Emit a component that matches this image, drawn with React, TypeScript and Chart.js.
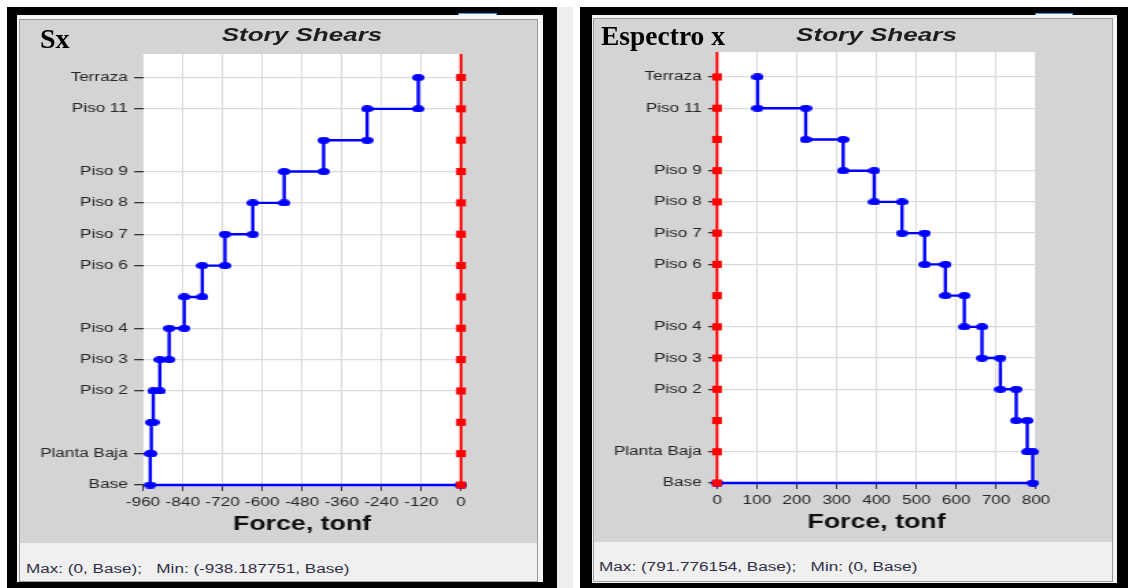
import React, { useEffect, useRef } from 'react';
import { Chart, registerables } from 'chart.js';

Chart.register(...registerables);

// ---------- data ----------
const storyLevels = ['Base', 'Planta Baja', 'Piso 1', 'Piso 2', 'Piso 3', 'Piso 4', 'Piso 5', 'Piso 6', 'Piso 7', 'Piso 8', 'Piso 9', 'Piso 10', 'Piso 11', 'Terraza'];
const labeledLevels = ['Base', 'Planta Baja', 'Piso 2', 'Piso 3', 'Piso 4', 'Piso 6', 'Piso 7', 'Piso 8', 'Piso 9', 'Piso 11', 'Terraza'];
const storiesTopDown = ['Terraza', 'Piso 11', 'Piso 10', 'Piso 9', 'Piso 8', 'Piso 7', 'Piso 6', 'Piso 5', 'Piso 4', 'Piso 3', 'Piso 2', 'Piso 1', 'Planta Baja'];
const shearSx = [-129.1, -283.5, -414.7, -533.8, -628.7, -712.5, -781.1, -835.6, -881.0, -909.3, -929.0, -935.0, -938.187751];
const shearEspectroX = [101.7, 222.4, 316.3, 394.2, 463.8, 520.8, 572.8, 620.1, 664.5, 710.6, 750.3, 778.0, 791.776154];
const xTicksSx = [-960, -840, -720, -600, -480, -360, -240, -120, 0];
const xTicksEspectro = [0, 100, 200, 300, 400, 500, 600, 700, 800];

const FONT = "'Liberation Sans', Arial, sans-serif";
const SERIF = "'Liberation Serif', 'Times New Roman', serif";
const CANVAS_W = 379;

type Box = [number, number, number, number];
type PanelCfg = {
  label: string; labelFont: number; labelLeft: number; labelTop: number;
  frame: Box; light: Box; panel: Box;
  statusTop: number;
  plot: Box; // left, top, right, bottom (page coords)
  titleCy: number; xTitleCy: number; statusCy: number; statusX: number;
  status: string;
  blueRect: [number, number];
  shears: number[];
  xTicks: number[];
  yMax: number;
};

function stepPoints(shears: number[]) {
  const pts: { x: number; y: number }[] = [];
  storiesTopDown.forEach((name, i) => {
    const k = storyLevels.indexOf(name);
    pts.push({ x: shears[i], y: k }, { x: shears[i], y: k - 1 });
  });
  pts.push({ x: 0, y: 0 });
  return pts;
}

function ShearChart({ cfg }: { cfg: PanelCfg }) {
  const ref = useRef<HTMLCanvasElement>(null);
  const [px, py, pw] = cfg.panel;
  const S = pw / CANVAS_W;
  const canvasH = cfg.statusTop - py;
  const L = (cfg.plot[0] - px) / S;
  const R = (cfg.plot[2] - px) / S;
  const T = cfg.plot[1] - py;
  const B = cfg.plot[3] - py;
  const xTitleFs = 19.5;
  const xTitlePad = canvasH - (cfg.xTitleCy - py) - (xTitleFs * 1.2) / 2;

  useEffect(() => {
    const dot = document.createElement('canvas');
    dot.width = 9; dot.height = 7;
    const c = dot.getContext('2d')!;
    c.fillStyle = '#0000ff';
    c.beginPath();
    c.ellipse(4.5, 3.5, 4.5, 3.5, 0, 0, Math.PI * 2);
    c.fill();

    const redPts = storyLevels.map((_, k) => ({ x: 0, y: k }));
    redPts.push({ x: 0, y: cfg.yMax });
    const redRadii = redPts.map((_, i) => (i < storyLevels.length ? 5 : 0));
    const xs = cfg.xTicks;

    const chart = new Chart(ref.current!, {
      type: 'line',
      data: {
        datasets: [
          {
            label: 'zero',
            data: redPts,
            borderColor: '#ff0000',
            backgroundColor: '#ff0000',
            borderWidth: 2,
            pointStyle: 'rect',
            pointRadius: redRadii,
            pointBorderWidth: 0,
            clip: false as any,
            tension: 0,
          },
          {
            label: 'shear',
            data: stepPoints(cfg.shears),
            borderColor: '#0000ff',
            backgroundColor: '#0000ff',
            borderWidth: 2.4,
            pointStyle: dot as any,
            pointRadius: 4,
            clip: false as any,
            tension: 0,
          },
        ],
      },
      options: {
        responsive: false,
        animation: false,
        devicePixelRatio: 1,
        events: [],
        layout: { padding: { left: 0, right: CANVAS_W - R, top: T, bottom: 0 } },
        plugins: { legend: { display: false }, tooltip: { enabled: false }, title: { display: false } },
        scales: {
          x: {
            type: 'linear',
            min: xs[0],
            max: xs[xs.length - 1],
            afterBuildTicks: (s: any) => { s.ticks = xs.map((v) => ({ value: v })); },
            afterFit: (s: any) => { s.height = canvasH - B; },
            grid: { color: '#dadada', lineWidth: 1, tickLength: 6, tickColor: '#333', tickWidth: 1 },
            border: { display: false },
            ticks: {
              autoSkip: false, maxRotation: 0, padding: 4, color: '#262626',
              font: { family: FONT, size: 12.5 },
              callback: (v: any) => String(v),
            },
            title: {
              display: true, text: 'Force, tonf', color: '#111',
              font: { family: FONT, size: xTitleFs, weight: 'bold' },
              padding: { top: 0, bottom: xTitlePad },
            },
          },
          y: {
            type: 'linear',
            min: 0,
            max: cfg.yMax,
            afterBuildTicks: (s: any) => { s.ticks = labeledLevels.map((n) => ({ value: storyLevels.indexOf(n) })); },
            afterFit: (s: any) => { s.width = L; },
            grid: { color: '#dadada', lineWidth: 1.3, tickLength: 6.5, tickColor: '#333', tickWidth: 1.3 },
            border: { display: false },
            ticks: {
              autoSkip: false, padding: 4.7, color: '#262626',
              font: { family: FONT, size: 12.5 },
              callback: (v: any) => storyLevels[v as number] ?? '',
            },
          },
        },
      },
      plugins: [
        {
          id: 'plotBg',
          beforeDraw(ch: any) {
            const { ctx, chartArea: a } = ch;
            ctx.save();
            ctx.fillStyle = '#ffffff';
            ctx.fillRect(a.left, a.top, a.right - a.left, a.bottom - a.top);
            ctx.restore();
          },
        },
      ],
    } as any);
    return () => chart.destroy();
  }, []);

  return (
    <canvas
      ref={ref}
      width={CANVAS_W}
      height={canvasH}
      style={{ position: 'absolute', left: 0, top: 0, width: CANVAS_W, height: canvasH }}
    />
  );
}

function Panel({ cfg }: { cfg: PanelCfg }) {
  const [px, py, pw, ph] = cfg.panel;
  const S = pw / CANVAS_W;
  const L = (cfg.plot[0] - px) / S;
  const R = (cfg.plot[2] - px) / S;
  const titleFs = 19;
  const statusFs = 12.5;
  const statusTopLocal = cfg.statusTop - py;
  return (
    <>
      <div style={{ position: 'absolute', left: cfg.frame[0], top: cfg.frame[1], width: cfg.frame[2], height: cfg.frame[3], background: '#000' }} />
      <div style={{ position: 'absolute', left: cfg.blueRect[0], top: 13, width: cfg.blueRect[1], height: 5, boxSizing: 'border-box', border: '1px solid #3f8fe0', borderBottom: 'none', background: '#fff' }} />
      <div style={{ position: 'absolute', left: cfg.light[0], top: cfg.light[1], width: cfg.light[2], height: cfg.light[3], background: '#f6f6f6' }} />
      <div style={{ position: 'absolute', left: px, top: py, width: pw, height: ph, background: '#d4d4d4', overflow: 'hidden' }}>
        <div style={{ position: 'absolute', left: 0, top: 0, width: CANVAS_W, height: ph, transform: `scaleX(${S})`, transformOrigin: '0 0' }}>
          <ShearChart cfg={cfg} />
          <div style={{ position: 'absolute', left: L, width: R - L, top: cfg.titleCy - py - 0.488 * titleFs, textAlign: 'center', font: `italic bold ${titleFs}px ${FONT}`, lineHeight: `${titleFs}px`, color: '#1e1e1e', whiteSpace: 'pre' }}>
            Story Shears
          </div>
          <div style={{ position: 'absolute', left: 0, top: statusTopLocal, width: CANVAS_W, height: ph - statusTopLocal, background: '#f0f0f0' }}>
            <div style={{ position: 'absolute', left: (cfg.statusX - px) / S, top: cfg.statusCy - cfg.statusTop - 0.488 * statusFs, font: `${statusFs}px ${FONT}`, lineHeight: `${statusFs}px`, color: '#2f2f45', whiteSpace: 'pre' }}>
              {cfg.status}
            </div>
          </div>
        </div>
        <div style={{ position: 'absolute', left: 0, top: 0, width: pw, height: ph, boxSizing: 'border-box', border: '1px solid #9c9c9c', pointerEvents: 'none' }} />
      </div>
      <div style={{ position: 'absolute', left: cfg.labelLeft, top: cfg.labelTop, font: `bold ${cfg.labelFont}px ${SERIF}`, lineHeight: `${cfg.labelFont}px`, color: '#000', whiteSpace: 'pre' }}>
        {cfg.label}
      </div>
    </>
  );
}

const leftCfg: PanelCfg = {
  label: 'Sx', labelFont: 28, labelLeft: 40, labelTop: 25,
  frame: [7, 7, 550, 600], light: [17, 15, 526, 567], panel: [19, 19, 519, 563],
  statusTop: 543,
  plot: [143, 54, 461, 485],
  titleCy: 34.5, xTitleCy: 525, statusCy: 569, statusX: 26,
  status: 'Max: (0, Base);   Min: (-938.187751, Base)',
  blueRect: [458, 39],
  shears: shearSx, xTicks: xTicksSx, yMax: 13.75,
};

const rightCfg: PanelCfg = {
  label: 'Espectro x', labelFont: 27.5, labelLeft: 601, labelTop: 22,
  frame: [580, 7, 548, 600], light: [592, 15, 525, 568], panel: [593, 18, 520, 564],
  statusTop: 542,
  plot: [717, 52, 1036, 483],
  titleCy: 34.5, xTitleCy: 523, statusCy: 566.7, statusX: 599,
  status: 'Max: (791.776154, Base);   Min: (0, Base)',
  blueRect: [1035, 38],
  shears: shearEspectroX, xTicks: xTicksEspectro, yMax: 13.8,
};

export default function App() {
  return (
    <div style={{ position: 'fixed', left: 0, top: 0, width: 1130, height: 588, overflow: 'hidden', background: '#fff' }}>
      <div style={{ position: 'absolute', left: 557, top: 7, width: 16, height: 581, background: '#eeeeee' }} />
      <Panel cfg={leftCfg} />
      <Panel cfg={rightCfg} />
    </div>
  );
}
